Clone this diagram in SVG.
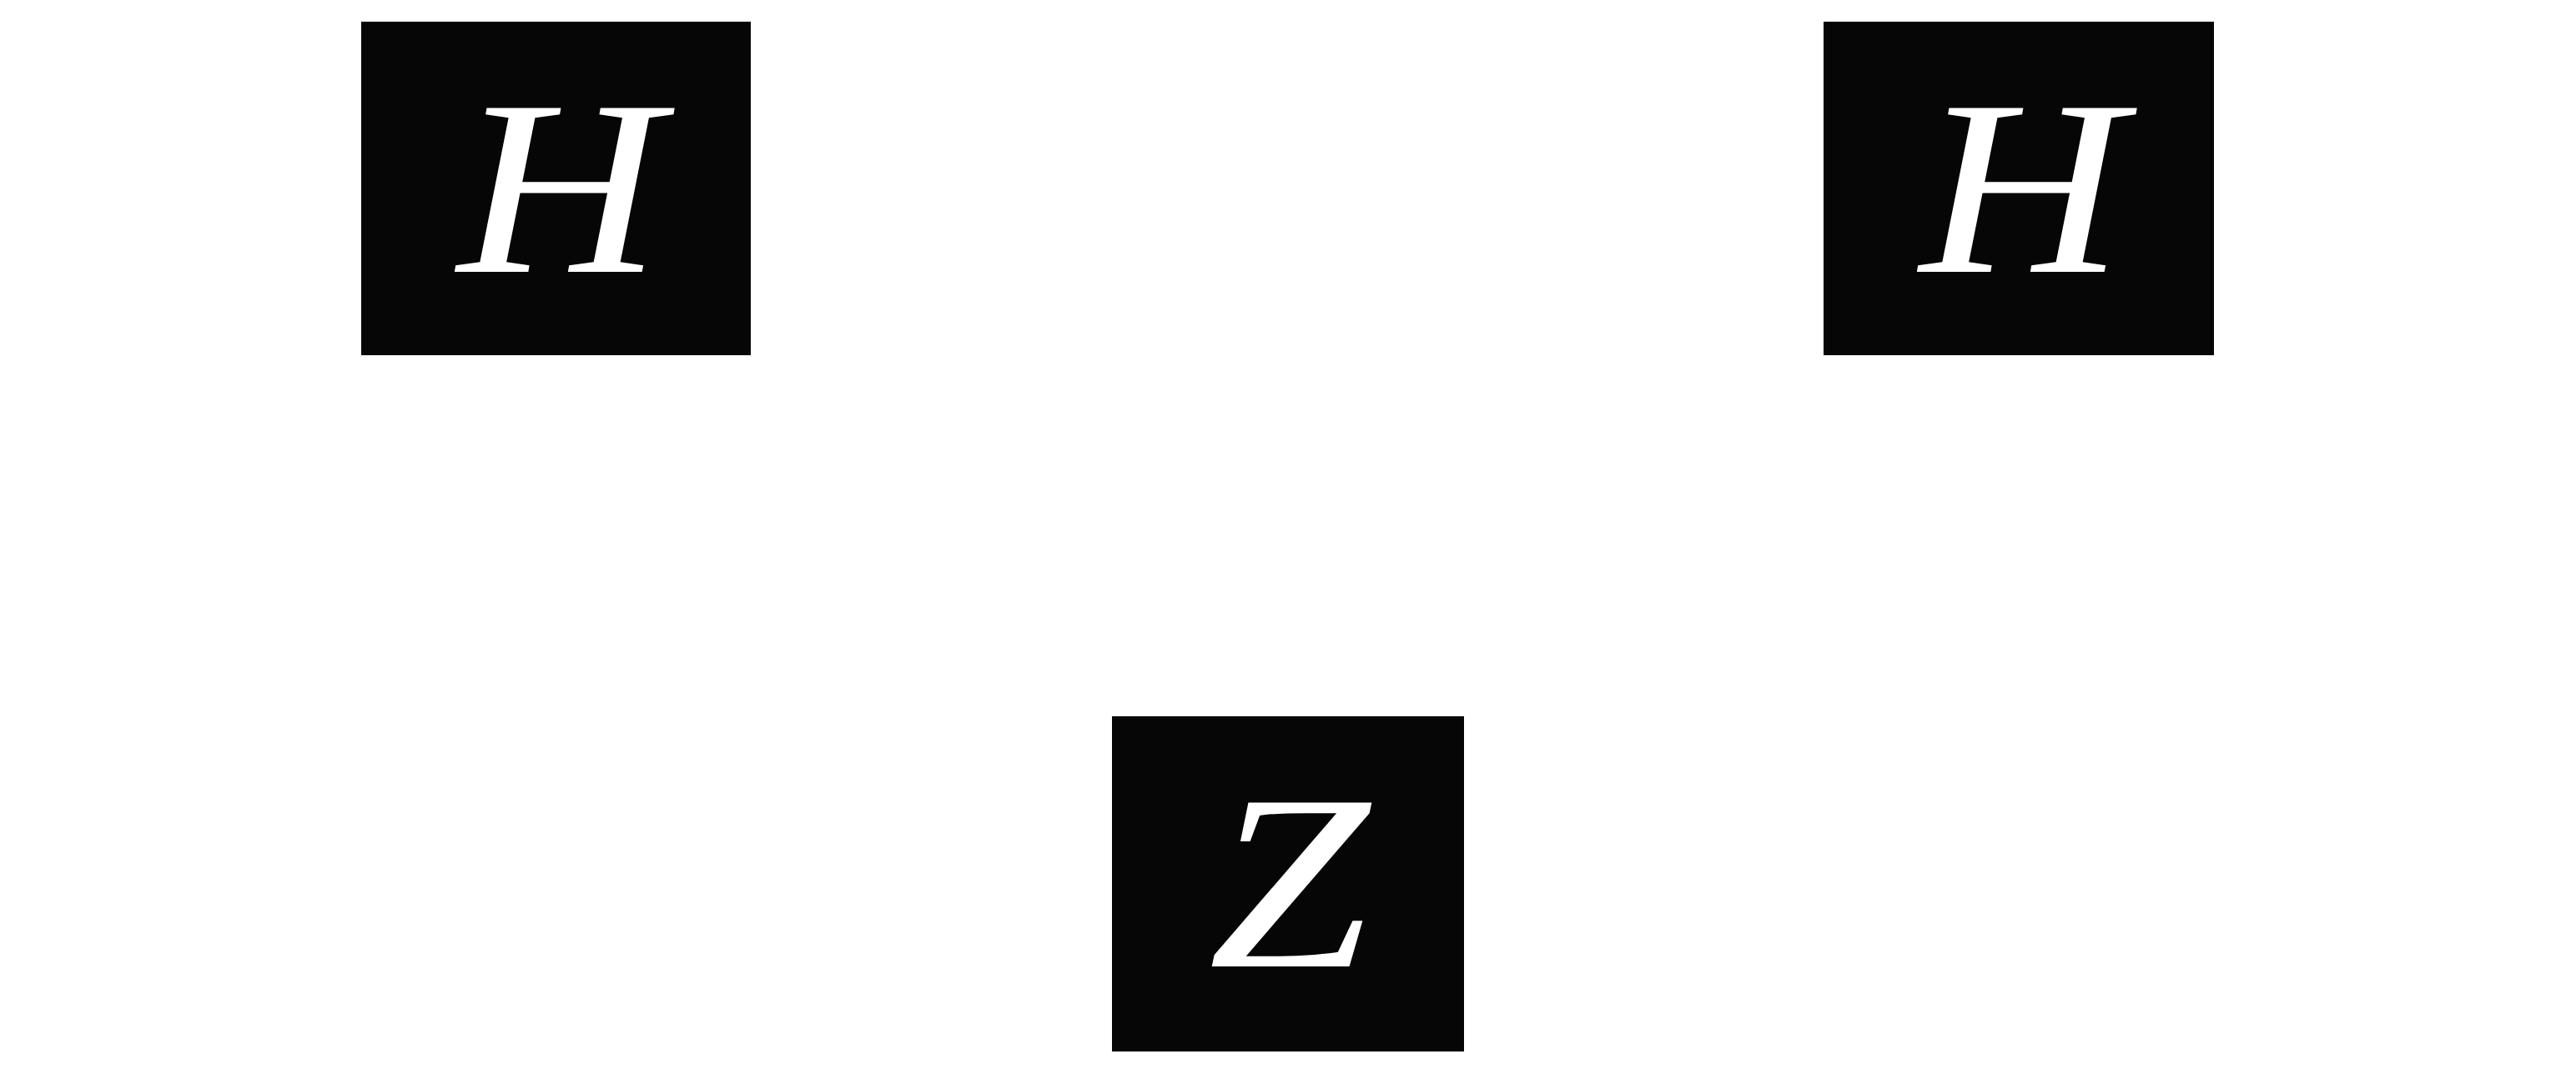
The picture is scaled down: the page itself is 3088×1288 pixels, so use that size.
<svg xmlns="http://www.w3.org/2000/svg" width="3088" height="1288" viewBox="0 0 3088 1288">
<style>
.box{fill:#060606;}
.lbl{fill:#ffffff;font-family:"Liberation Serif","DejaVu Serif",serif;font-style:italic;font-size:300px;text-anchor:middle;}
</style>
<rect x="0" y="0" width="3088" height="1288" fill="#ffffff"/>
<g id="connectors"></g>
<g id="node-h1">
<rect class="box" x="433" y="26" width="467" height="400"/>
<text class="lbl" x="671" y="326" textLength="245" lengthAdjust="spacingAndGlyphs">H</text>
</g>
<g id="node-h2">
<rect class="box" x="2186" y="26" width="468" height="400"/>
<text class="lbl" x="2424" y="326" textLength="245" lengthAdjust="spacingAndGlyphs">H</text>
</g>
<g id="node-z">
<rect class="box" x="1333" y="859" width="422" height="402"/>
<text class="lbl" x="1545" y="1159" textLength="193" lengthAdjust="spacingAndGlyphs">Z</text>
</g>
</svg>
